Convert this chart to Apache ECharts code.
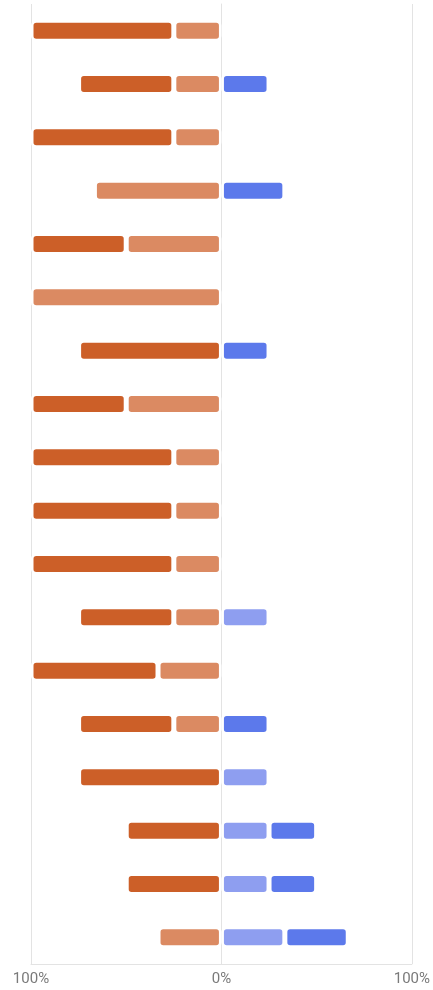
<!DOCTYPE html>
<html>
<head>
<meta charset="utf-8">
<script src="https://cdn.jsdelivr.net/npm/echarts@6/dist/echarts.min.js"></script>
<style>html,body{margin:0;padding:0;background:#fff}#c{width:433px;height:990px}</style>
</head>
<body>
<div id="c"></div>
<script>
var categories = ['R1','R2','R3','R4','R5','R6','R7','R8','R9','R10','R11','R12','R13','R14','R15','R16','R17','R18'];
var darkOrange  = [75,50,75,0,50,0,75,50,75,75,75,50,66.7,50,75,50,50,0];
var lightOrange = [25,25,25,66.7,50,100,0,50,25,25,25,25,33.3,25,0,0,0,33.3];
var lightBlue   = [0,0,0,0,0,0,0,0,0,0,0,25,0,0,25,25,25,33.3];
var blue        = [0,25,0,33.3,0,0,25,0,0,0,0,0,0,25,0,25,25,33.3];
var tickValues  = [-100, 0, 100];

function neg(arr){ return arr.map(function(v){ return v ? -v : '-'; }); }
function pos(arr){ return arr.map(function(v){ return v ? v : '-'; }); }

var chart = echarts.init(document.getElementById('c'));
function mk(name, data, color){
  return {
    name: name, type: 'bar', stack: 'all', data: data, barWidth: 21,
    itemStyle: { color: color, borderColor: '#ffffff', borderWidth: 2.5, borderRadius: 4 },
    silent: true
  };
}
chart.setOption({
  animation: false,
  grid: { left: 31, right: 21, top: 4, bottom: 26, containLabel: false },
  xAxis: {
    type: 'value', min: -100, max: 100, interval: 100,
    axisLine: { show: true, lineStyle: { color: '#e3e3e3', width: 1 } },
    axisTick: { show: false },
    splitLine: { show: true, lineStyle: { color: '#e3e3e3', width: 1 } },
    axisLabel: {
      color: '#7a7a7a', fontSize: 15, fontFamily: 'Roboto', margin: 8,
      formatter: function(v){ return tickValues.indexOf(v) >= 0 ? Math.abs(v) + '%' : ''; }
    }
  },
  yAxis: {
    type: 'category', data: categories, inverse: true,
    axisLine: { show: true, onZero: true, lineStyle: { color: '#e3e3e3' } },
    axisTick: { show: false }, axisLabel: { show: false }, splitLine: { show: false }
  },
  series: [
    mk('lightOrange', neg(lightOrange), '#db8a62'),
    mk('darkOrange', neg(darkOrange), '#cc5f28'),
    mk('lightBlue', pos(lightBlue), '#8e9ef0'),
    mk('blue', pos(blue), '#5c79eb')
  ]
});
</script>
</body>
</html>
